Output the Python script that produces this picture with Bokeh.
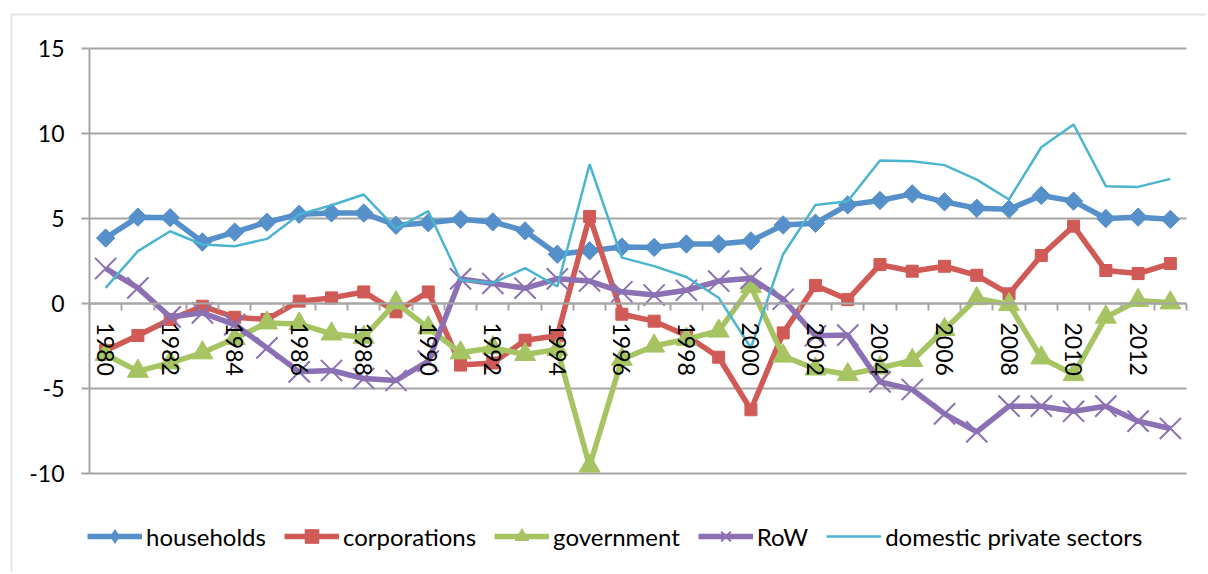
import math
from bokeh.plotting import figure
from bokeh.models import Range1d, FixedTicker, Legend, LegendItem, BoxAnnotation
from bokeh.embed import file_html
from bokeh.resources import INLINE

years = list(range(1980, 2014))

households = [3.85, 5.08, 5.05, 3.62, 4.2, 4.78, 5.25, 5.33, 5.32, 4.6, 4.75,
              4.95, 4.8, 4.27, 2.9, 3.1, 3.32, 3.3, 3.5, 3.5, 3.68, 4.62, 4.72,
              5.8, 6.06, 6.45, 5.98, 5.6, 5.55, 6.35, 6.02, 5.0, 5.08, 4.95]

corporations = [-2.77, -1.88, -0.94, -0.16, -0.81, -0.94, 0.14, 0.33, 0.68, -0.49, 0.68,
                -3.62, -3.5, -2.16, -1.9, 5.12, -0.63, -1.04, -1.88, -3.16, -6.25, -1.73, 1.06,
                0.23, 2.29, 1.9, 2.19, 1.66, 0.57, 2.82, 4.55, 1.94, 1.76, 2.35]

government = [-3.0, -3.98, -3.49, -2.9, -2.06, -1.14, -1.2, -1.79, -1.98, 0.04, -1.43,
              -2.9, -2.6, -3.0, -2.7, -9.56, -3.28, -2.5, -2.1, -1.62, 1.0, -3.09, -3.85,
              -4.18, -3.79, -3.35, -1.53, 0.29, -0.06, -3.2, -4.18, -0.8, 0.18, 0.04]

row = [2.06, 0.92, -0.79, -0.55, -1.24, -2.61, -4.02, -3.94, -4.41, -4.53, -3.39,
       1.45, 1.18, 0.9, 1.45, 1.32, 0.69, 0.5, 0.78, 1.32, 1.48, 0.25, -1.9,
       -1.86, -4.61, -5.06, -6.49, -7.55, -6.04, -6.04, -6.34, -6.04, -6.92, -7.35]

domestic_private = [0.92, 3.08, 4.25, 3.47, 3.37, 3.8, 5.24, 5.78, 6.41, 4.41, 5.43,
                    1.38, 1.2, 2.08, 1.0, 8.19, 2.7, 2.2, 1.56, 0.34, -2.6, 2.9, 5.8,
                    6.02, 8.41, 8.37, 8.14, 7.29, 6.12, 9.19, 10.53, 6.9, 6.86, 7.33]

series_names = ["households", "corporations", "government", "RoW", "domestic private sectors"]

y_ticks = [-10, -5, 0, 5, 10, 15]
y_tick_labels = ["-10", "-5", "0", "5", "10", "15"]
x_tick_years = list(range(1980, 2013, 2))
x_tick_labels = [str(y) for y in x_tick_years]

GRAY = "#a6a6a6"
FONT = "Lato"
TICK_SIZE = "23px"
LEG_SIZE = "24px"

# ---- layout geometry (canvas pixels) ----
W, H = 1206, 572
PL, PR, PT, PB = 89, 1186, 48, 473          # plot-area edges on the canvas
X0, X1 = years[0] - 0.5, years[-1] + 0.5    # category band edges
Y0, Y1 = y_ticks[0], y_ticks[-1]
xs = (PR - PL) / (X1 - X0)
ys = (PB - PT) / (Y1 - Y0)
x_range = Range1d(X0 - PL / xs, X1 + (W - PR) / xs)
y_range = Range1d(Y0 - (H - PB) / ys, Y1 + PT / ys)

p = figure(width=W, height=H, output_backend="svg", toolbar_location=None,
           x_range=x_range, y_range=y_range)
p.min_border = 0
p.min_border_left = 0
p.min_border_right = 0
p.min_border_top = 0
p.min_border_bottom = 0
p.outline_line_color = None
p.background_fill_color = "white"
p.border_fill_color = "white"

# outer chart-area border (left and top edges visible)
p.add_layout(BoxAnnotation(left=11, right=5000, top=14, bottom=5000,
                           left_units="canvas", right_units="canvas",
                           top_units="canvas", bottom_units="canvas",
                           fill_alpha=0, line_color=GRAY, line_width=2,
                           level="underlay"))

# horizontal gridlines across the plot area
p.xgrid.visible = False
p.ygrid.visible = False
p.segment(x0=[X0] * len(y_ticks), x1=[X1] * len(y_ticks), y0=y_ticks, y1=y_ticks,
          line_color=GRAY, line_width=2)

# x axis crossing at 0
p.xaxis.fixed_location = 0
p.xaxis.bounds = (X0, X1)
p.xaxis.ticker = FixedTicker(ticks=x_tick_years,
                             minor_ticks=[y + 0.5 for y in range(years[0] - 1, years[-1] + 1)])
p.xaxis.major_label_orientation = -math.pi / 2
p.xaxis.major_label_overrides = {float(k): v for k, v in zip(x_tick_years, x_tick_labels)}
p.xaxis.major_tick_out = 0
p.xaxis.major_tick_in = 0
p.xaxis.minor_tick_out = 7
p.xaxis.minor_tick_in = 0
p.xaxis.minor_tick_line_color = GRAY
p.xaxis.minor_tick_line_width = 2
p.xaxis.axis_line_color = GRAY
p.xaxis.axis_line_width = 2
p.xaxis.major_label_standoff = 12
p.xaxis.major_label_text_font = FONT
p.xaxis.major_label_text_font_size = TICK_SIZE
p.xaxis.major_label_text_color = "black"

# y axis at the left edge of the plot area
p.yaxis.fixed_location = X0
p.yaxis.bounds = (Y0, Y1)
p.yaxis.ticker = FixedTicker(ticks=y_ticks, minor_ticks=[])
p.yaxis.major_label_overrides = {float(k): v for k, v in zip(y_ticks, y_tick_labels)}
p.yaxis.axis_line_color = GRAY
p.yaxis.axis_line_width = 2
p.yaxis.major_tick_out = 8
p.yaxis.major_tick_in = 0
p.yaxis.major_tick_line_color = GRAY
p.yaxis.major_tick_line_width = 2
p.yaxis.major_label_standoff = 17
p.yaxis.major_label_text_font = FONT
p.yaxis.major_label_text_font_size = TICK_SIZE
p.yaxis.major_label_text_color = "black"

C_HH = "#5590ca"
C_CO = "#d05a55"
C_GO = "#a6c462"
C_RW = "#8b70b3"
C_DP = "#4bb5cf"

items = []

l1 = p.line(years, households, line_color=C_HH, line_width=5.5)
m1 = p.scatter(years, households, marker="square", angle=math.pi / 4, size=13,
               fill_color=C_HH, line_color=C_HH)
# diamond symbol used only for the legend key (a single undrawable NaN point)
m1_key = p.scatter(x=[float("nan")], y=[float("nan")], marker="diamond", size=13,
                   fill_color=C_HH, line_color=C_HH)
items.append(LegendItem(label=series_names[0], renderers=[l1, m1_key]))

l2 = p.line(years, corporations, line_color=C_CO, line_width=5.5)
m2 = p.scatter(years, corporations, marker="square", size=12,
               fill_color=C_CO, line_color=C_CO)
items.append(LegendItem(label=series_names[1], renderers=[l2, m2]))

l3 = p.line(years, government, line_color=C_GO, line_width=5.5)
m3 = p.scatter(years, government, marker="triangle", size=21,
               fill_color=C_GO, line_color=C_GO)
items.append(LegendItem(label=series_names[2], renderers=[l3, m3]))

l4 = p.line(years, row, line_color=C_RW, line_width=5.5)
m4 = p.scatter(years, row, marker="x", size=30, line_color=C_RW, line_width=2)
items.append(LegendItem(label=series_names[3], renderers=[l4, m4]))

l5 = p.line(years, domestic_private, line_color=C_DP, line_width=2.5)
items.append(LegendItem(label=series_names[4], renderers=[l5]))

legend = Legend(items=items, location=(87, 19), orientation="horizontal",
                glyph_width=55, glyph_height=34, label_standoff=4, spacing=18,
                padding=0, margin=0, border_line_alpha=0, background_fill_alpha=0,
                label_text_font=FONT, label_text_font_size=LEG_SIZE,
                label_text_color="black")
p.add_layout(legend)

open("out.html", "w").write(file_html(p, INLINE))
